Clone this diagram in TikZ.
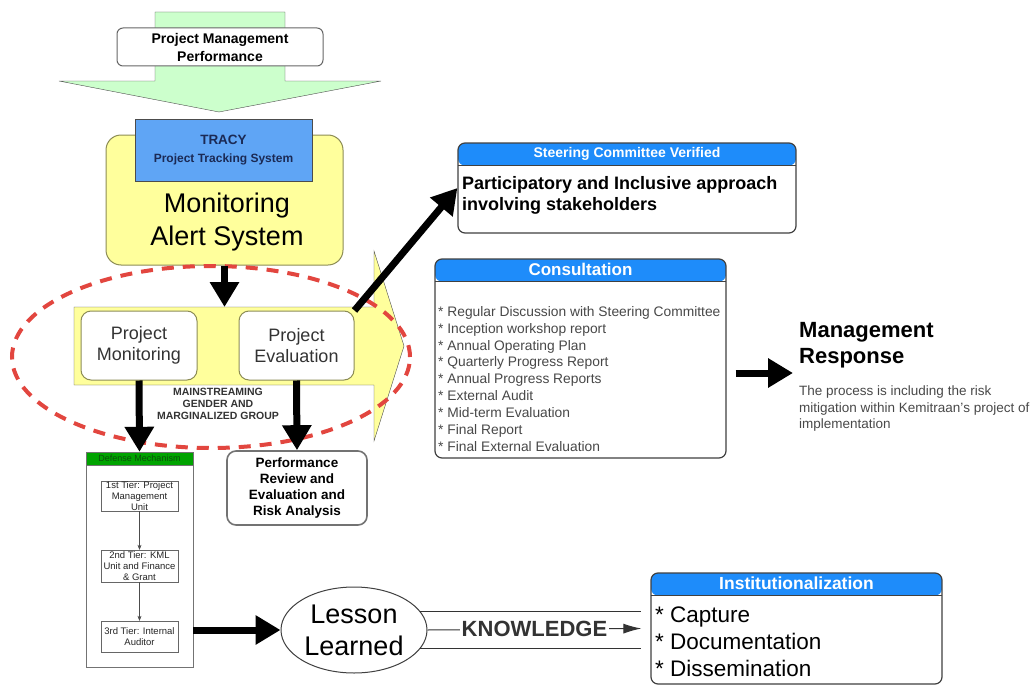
\documentclass[tikz,border=0pt]{standalone}
\usepackage{fontspec}
\setmainfont{Liberation Sans}
\usetikzlibrary{arrows.meta,shapes.geometric}
\definecolor{paleGreen}{HTML}{CCFFCC}
\definecolor{paleYellow}{HTML}{FFFF9C}
\definecolor{boxOlive}{HTML}{8C8C55}
\definecolor{tracyBlue}{HTML}{5FA5F5}
\definecolor{tracyText}{HTML}{1B2A55}
\definecolor{headBlue}{HTML}{1E8CFA}
\definecolor{defGreen}{HTML}{00A300}
\definecolor{defText}{HTML}{0B4F0B}
\definecolor{dashRed}{HTML}{E2463F}
\definecolor{textGray}{HTML}{484848}

\begin{document}
\begin{tikzpicture}[x=1pt, y=-1pt,
    bigarrow/.style={-{Triangle[length=25pt,width=28pt]}, line width=7pt},
    roundbox/.style={rectangle, rounded corners=10pt, draw=boxOlive, fill=white, line width=1pt, inner sep=0pt},
    panel/.style={rectangle, rounded corners=7pt, draw=black!75, line width=1.2pt, fill=white, inner sep=0pt,
        path picture={
            \fill[headBlue] (path picture bounding box.north west) rectangle ([yshift=-22.5pt]path picture bounding box.north east);
            \draw[black!75, line width=1pt] ([yshift=-22.5pt]path picture bounding box.north west) -- ([yshift=-22.5pt]path picture bounding box.north east);}},
    panelhead/.style={font=\fontsize{14}{16}\selectfont\bfseries, text=white, inner sep=0pt},
    tierbox/.style={rectangle, draw=black!60, fill=white, minimum width=77pt, align=center, inner sep=0pt, font=\fontsize{9.5}{11}\selectfont, text=black!85},
    tierarrow/.style={-{Stealth[length=5pt,width=4pt]}, black!70, thin}
]
    \useasboundingbox (0,0) rectangle (1036,685);

    % Input arrow
    \draw[draw=black!70, fill=paleGreen] (155,12) -- (285,12) -- (285,81) -- (381,81) -- (219,112) -- (59,81) -- (155,81) -- cycle;
    \node[roundbox, draw=black!60, rounded corners=6pt, minimum width=206pt, minimum height=38pt, align=center, font=\fontsize{14}{18}\selectfont\bfseries] (pmp) at (220,47) {Project Management\\Performance};

    % Monitoring alert system
    \node[roundbox, fill=paleYellow, rounded corners=15pt, minimum width=237pt, minimum height=130pt] (alert) at (224.5,200) {};
    \node[align=center, font=\fontsize{27}{33}\selectfont] (alertlbl) at (227,222) {Monitoring\\Alert System};
    \node[rectangle, draw=black!70, fill=tracyBlue, minimum width=177pt, minimum height=62pt, align=center, text=tracyText, font=\fontsize{12}{18}\selectfont\bfseries] (tracy) at (223.5,150) {{\fontsize{13.5}{18}\selectfont TRACY}\\Project Tracking System};

    % Flow arrow
    \draw[draw=black!70, fill=paleYellow] (74,307) -- (374,307) -- (374,251) -- (404,346) -- (374,441) -- (374,385) -- (74,385) -- cycle;
    \coordinate (flowtop) at (224.5,307);

    % Red dashed ellipse
    \draw[dashRed, line width=4pt, dash pattern=on 12pt off 9pt] (211,357) ellipse [x radius=199pt, y radius=91pt];

    % Monitoring and evaluation
    \node[roundbox, minimum width=116pt, minimum height=69pt, align=center, font=\fontsize{18}{21}\selectfont, text=black!80] (pmon) at (139,345.5) {Project\\Monitoring};
    \node[roundbox, minimum width=115pt, minimum height=69pt, align=center, font=\fontsize{18}{21}\selectfont, text=black!80] (peval) at (296.5,345.5) {Project\\Evaluation};
    \node[align=center, font=\fontsize{10.5}{12}\selectfont\bfseries, text=black!80] (mainstream) at (218,404) {MAINSTREAMING\\GENDER AND\\MARGINALIZED GROUP};

    % Defense mechanism
    \node[rectangle, draw=black!55, minimum width=107pt, minimum height=215pt, inner sep=0pt] (defense) at (139.5,559.5) {};
    \node[rectangle, draw=black!55, fill=defGreen, minimum width=107pt, minimum height=13pt, inner sep=0pt, anchor=north, text=defText, font=\fontsize{9}{10}\selectfont] (defhead) at (defense.north) {Defense Mechanism};
    \node[tierbox, minimum height=30pt] (tier1) at (139.5,496) {1st Tier: Project\\Management\\Unit};
    \node[tierbox, minimum height=32pt] (tier2) at (139.5,566) {2nd Tier: KML\\Unit and Finance\\\& Grant};
    \node[tierbox, minimum height=31pt] (tier3) at (139.5,636.5) {3rd Tier: Internal\\Auditor};
    \draw[tierarrow] (tier1) -- (tier2);
    \draw[tierarrow] (tier2) -- (tier3);

    % Performance review
    \node[roundbox, draw=black!55, line width=1.6pt, rounded corners=9pt, minimum width=140pt, minimum height=74pt, align=center, font=\fontsize{13.5}{16}\selectfont\bfseries] (perf) at (297,488) {Performance\\Review and\\Evaluation and\\Risk Analysis};

    % Steering committee
    \node[panel, minimum width=338pt, minimum height=90pt] (steer) at (627,188) {};
    \node[panelhead] (steerhead) at ([yshift=-11.25pt]steer.north) {Steering Committee Verified};
    \node[anchor=north west, align=left, inner sep=0pt, font=\fontsize{18}{21.5}\selectfont\bfseries] (steertxt) at (462,176) {Participatory and Inclusive approach\\involving stakeholders};

    % Consultation
    \node[panel, minimum width=291pt, minimum height=199pt] (consult) at (580.5,358.5) {};
    \node[panelhead, font=\fontsize{17}{19}\selectfont\bfseries] (consulthead) at ([yshift=-11.5pt]consult.north) {Consultation};
    \node[anchor=north west, align=left, inner sep=0pt, text=textGray, font=\fontsize{13.8}{16.9}\selectfont] (consulttxt) at (438,306) {* Regular Discussion with Steering Committee\\* Inception workshop report\\* Annual Operating Plan\\* Quarterly Progress Report\\* Annual Progress Reports\\* External Audit\\* Mid-term Evaluation\\* Final Report\\* Final External Evaluation};

    % Management response
    \node[anchor=north west, align=left, inner sep=0pt, font=\fontsize{22}{26}\selectfont\bfseries] (mgmt) at (799,322) {Management\\Response};
    \node[anchor=north west, align=left, inner sep=0pt, text=textGray, font=\fontsize{13.5}{16.5}\selectfont] (mgmtnote) at (799,386) {The process is including the risk\\mitigation within Kemitraan's project of\\implementation};
    \coordinate (mgmtin) at (793,373);

    % Lesson learned and institutionalization
    \node[ellipse, draw=black!75, line width=1pt, fill=white, minimum width=146pt, minimum height=86pt, inner sep=0pt, align=center, font=\fontsize{27}{32}\selectfont] (lesson) at (354,630) {Lesson\\Learned};
    \node[panel, minimum width=291pt, minimum height=111pt] (inst) at (796.5,628.5) {};
    \node[panelhead, font=\fontsize{17.5}{19}\selectfont\bfseries] (insthead) at ([yshift=-11.25pt]inst.north) {Institutionalization};
    \node[anchor=north west, align=left, inner sep=0pt, font=\fontsize{22.5}{27}\selectfont] (insttxt) at (655,607) {* Capture\\* Documentation\\* Dissemination};

    % Knowledge link
    \draw[black!80, line width=1pt] (lesson.16) -- ([xshift=-9pt]lesson.16 -| inst.west);
    \draw[black!80, line width=1pt] (lesson.-16) -- ([xshift=-9pt]lesson.-16 -| inst.west);
    \draw[black!80, line width=1pt, -{Latex[length=18pt,width=10pt]}] (lesson.east) -- ([xshift=-9pt]inst.west) node[midway, fill=white, inner sep=2pt, font=\fontsize{22}{24}\selectfont\bfseries] (know) {KNOWLEDGE};

    % Arrows
    \draw[bigarrow] (alert.south) -- (alert.south |- flowtop);
    \draw[bigarrow] (pmon.south) -- (defense.north);
    \draw[bigarrow] (peval.south) -- (perf.north);
    \draw[bigarrow] (peval.north east) -- (steer.west);
    \draw[bigarrow] (defense.east |- lesson.west) -- (lesson.west);
    \draw[bigarrow] ([xshift=9pt]consult.east |- mgmtin) -- (mgmtin);

\end{tikzpicture}
\end{document}
